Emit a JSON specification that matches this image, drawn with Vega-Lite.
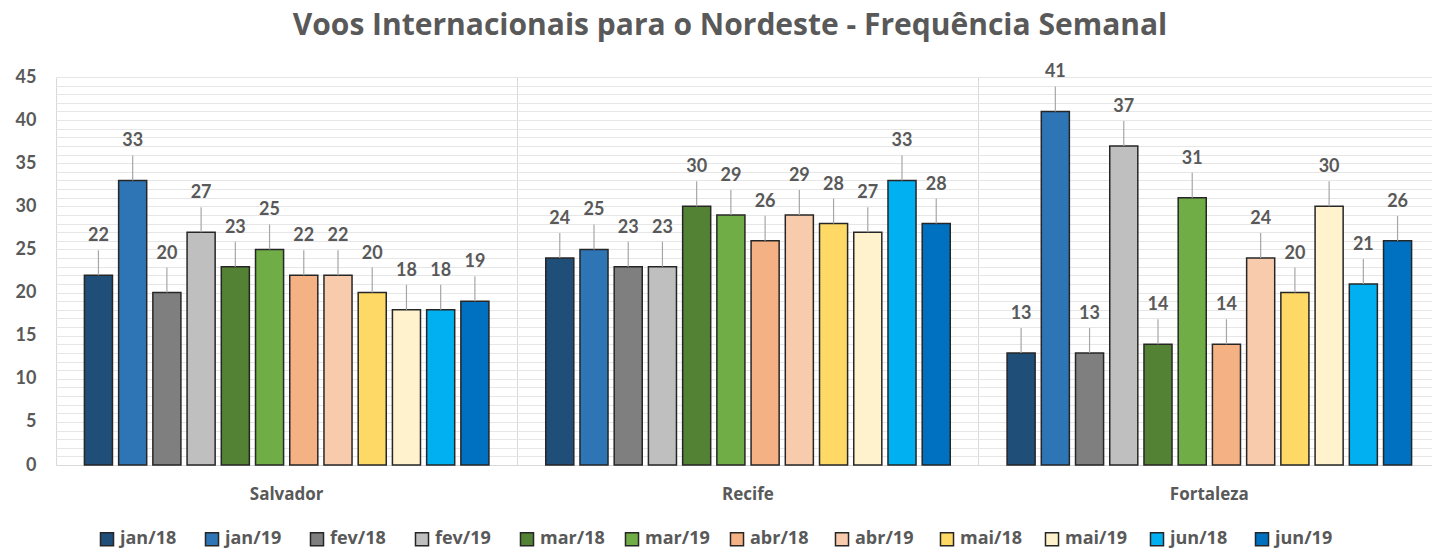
{
  "$schema": "https://vega.github.io/schema/vega-lite/v6.json",
  "width": 1384,
  "height": 388,
  "autosize": {"type": "none"},
  "padding": {"left": 56, "top": 77, "right": 0, "bottom": 88},
  "background": "white",
  "title": {
    "text": "Voos Internacionais para o Nordeste - Frequência Semanal",
    "font": "Open Sans",
    "fontSize": 30,
    "fontWeight": "bold",
    "color": "#595959",
    "anchor": "middle",
    "frame": "group",
    "dx": -18,
    "offset": 22
  },
  "config": {
    "view": {"stroke": null},
    "axis": {"labelFont": "Lato", "labelFontWeight": "bold", "labelColor": "#595959"}
  },
  "data": {
    "values": [
      {"city": "Salvador", "month": "jan/18", "flights": 22},
      {"city": "Salvador", "month": "jan/19", "flights": 33},
      {"city": "Salvador", "month": "fev/18", "flights": 20},
      {"city": "Salvador", "month": "fev/19", "flights": 27},
      {"city": "Salvador", "month": "mar/18", "flights": 23},
      {"city": "Salvador", "month": "mar/19", "flights": 25},
      {"city": "Salvador", "month": "abr/18", "flights": 22},
      {"city": "Salvador", "month": "abr/19", "flights": 22},
      {"city": "Salvador", "month": "mai/18", "flights": 20},
      {"city": "Salvador", "month": "mai/19", "flights": 18},
      {"city": "Salvador", "month": "jun/18", "flights": 18},
      {"city": "Salvador", "month": "jun/19", "flights": 19},
      {"city": "Recife", "month": "jan/18", "flights": 24},
      {"city": "Recife", "month": "jan/19", "flights": 25},
      {"city": "Recife", "month": "fev/18", "flights": 23},
      {"city": "Recife", "month": "fev/19", "flights": 23},
      {"city": "Recife", "month": "mar/18", "flights": 30},
      {"city": "Recife", "month": "mar/19", "flights": 29},
      {"city": "Recife", "month": "abr/18", "flights": 26},
      {"city": "Recife", "month": "abr/19", "flights": 29},
      {"city": "Recife", "month": "mai/18", "flights": 28},
      {"city": "Recife", "month": "mai/19", "flights": 27},
      {"city": "Recife", "month": "jun/18", "flights": 33},
      {"city": "Recife", "month": "jun/19", "flights": 28},
      {"city": "Fortaleza", "month": "jan/18", "flights": 13},
      {"city": "Fortaleza", "month": "jan/19", "flights": 41},
      {"city": "Fortaleza", "month": "fev/18", "flights": 13},
      {"city": "Fortaleza", "month": "fev/19", "flights": 37},
      {"city": "Fortaleza", "month": "mar/18", "flights": 14},
      {"city": "Fortaleza", "month": "mar/19", "flights": 31},
      {"city": "Fortaleza", "month": "abr/18", "flights": 14},
      {"city": "Fortaleza", "month": "abr/19", "flights": 24},
      {"city": "Fortaleza", "month": "mai/18", "flights": 20},
      {"city": "Fortaleza", "month": "mai/19", "flights": 30},
      {"city": "Fortaleza", "month": "jun/18", "flights": 21},
      {"city": "Fortaleza", "month": "jun/19", "flights": 26}
    ]
  },
  "encoding": {
    "x": {
      "field": "city",
      "type": "nominal",
      "sort": ["Salvador", "Recife", "Fortaleza"],
      "scale": {"paddingInner": 0, "paddingOuter": 0},
      "axis": {
        "title": null,
        "labelAngle": 0,
        "labelFont": "Open Sans",
        "labelFontSize": 17,
        "labelPadding": 21,
        "ticks": false,
        "domainColor": "#d9d9d9",
        "grid": true,
        "gridColor": "#d9d9d9",
        "bandPosition": 0
      }
    },
    "xOffset": {
      "field": "month",
      "type": "nominal",
      "sort": ["jan/18", "jan/19", "fev/18", "fev/19", "mar/18", "mar/19", "abr/18", "abr/19", "mai/18", "mai/19", "jun/18", "jun/19"],
      "scale": {"paddingInner": 0.18, "paddingOuter": 0.83}
    },
    "y": {
      "field": "flights",
      "type": "quantitative",
      "scale": {"domain": [0, 45], "nice": false},
      "axis": {
        "title": null,
        "values": [0,1,2,3,4,5,6,7,8,9,10,11,12,13,14,15,16,17,18,19,20,21,22,23,24,25,26,27,28,29,30,31,32,33,34,35,36,37,38,39,40,41,42,43,44,45],
        "labelExpr": "datum.value % 5 === 0 ? datum.label : ''",
        "labelFontSize": 18,
        "labelPadding": 20,
        "ticks": false,
        "domain": false,
        "grid": true,
        "gridColor": "#e6e6e6"
      }
    }
  },
  "layer": [
    {
      "mark": {"type": "bar", "stroke": "#262626", "strokeWidth": 1.5},
      "encoding": {
        "color": {
          "field": "month",
          "type": "nominal",
          "sort": ["jan/18", "jan/19", "fev/18", "fev/19", "mar/18", "mar/19", "abr/18", "abr/19", "mai/18", "mai/19", "jun/18", "jun/19"],
          "scale": {
            "domain": ["jan/18", "jan/19", "fev/18", "fev/19", "mar/18", "mar/19", "abr/18", "abr/19", "mai/18", "mai/19", "jun/18", "jun/19"],
            "range": ["#1f4e79", "#2e75b6", "#7f7f7f", "#bfbfbf", "#548235", "#70ad47", "#f4b183", "#f8cbad", "#ffd966", "#fff2cc", "#00b0f0", "#0070c0"]
          },
          "legend": {
            "title": null,
            "orient": "none",
            "legendX": 42,
            "legendY": 453,
            "direction": "horizontal",
            "columns": 12,
            "gridAlign": "all",
            "columnPadding": 17,
            "symbolType": "square",
            "symbolSize": 170,
            "symbolStrokeColor": "#262626",
            "symbolStrokeWidth": 1.5,
            "labelFont": "Open Sans",
            "labelFontSize": 18,
            "labelFontWeight": "bold",
            "labelColor": "#595959",
            "labelOffset": 4
          }
        }
      }
    },
    {
      "mark": {"type": "rule", "color": "#a6a6a6", "strokeWidth": 1.2, "y2Offset": -25},
      "encoding": {"y2": {"field": "flights"}}
    },
    {
      "mark": {"type": "text", "font": "Lato", "fontSize": 18, "fontWeight": "bold", "color": "#595959", "baseline": "alphabetic", "yOffset": -34},
      "encoding": {"text": {"field": "flights", "type": "quantitative"}}
    }
  ]
}
